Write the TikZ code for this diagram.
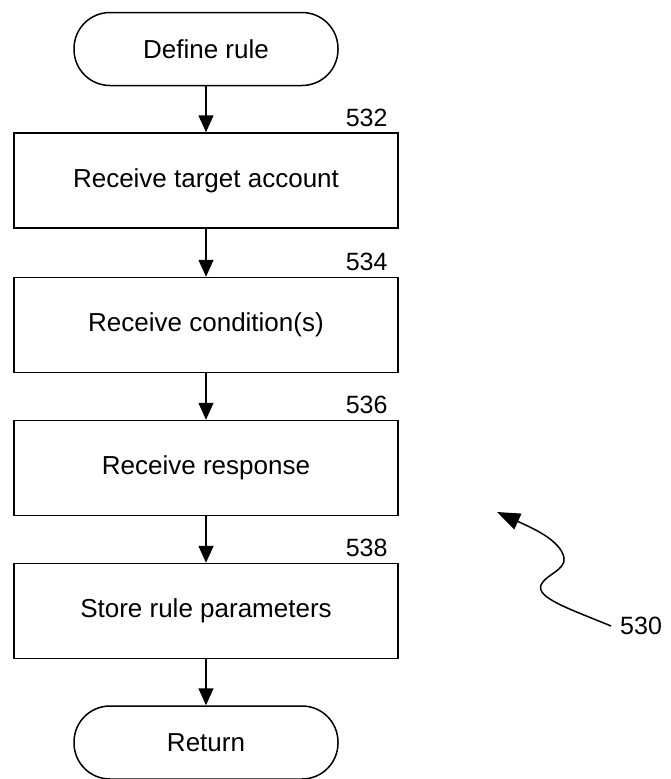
\documentclass[tikz,border=0pt]{standalone}
\usepackage{fontspec}
\setmainfont{Liberation Sans}
\usetikzlibrary{arrows.meta}
\begin{document}
\begin{tikzpicture}[x=1pt,y=-1pt,
  every node/.style={font=\fontsize{26}{30}\selectfont},
  terminal/.style={draw, line width=1.5pt, rounded corners=36pt, minimum width=264pt, minimum height=73pt, inner sep=0pt},
  stepbox/.style={draw, line width=1.5pt, minimum width=384pt, minimum height=95pt, inner sep=0pt},
  num/.style={inner sep=0pt, font=\fontsize{25}{28}\selectfont},
  flow/.style={line width=1.5pt, -{Triangle[length=17pt,width=15pt]}},
  lead/.style={line width=1.5pt, -{Triangle[length=23pt,width=17pt]}}]
\useasboundingbox (0,0) rectangle (670,779);
\node[terminal] (start) at (206,49) {Define rule};
\node[stepbox] (b1) at (206,180.5) {Receive target account};
\node[stepbox] (b2) at (206,325) {Receive condition(s)};
\node[stepbox] (b3) at (206,468) {Receive response};
\node[stepbox] (b4) at (206,611) {Store rule parameters};
\node[terminal] (ret) at (206,742.5) {Return};
\node[num, anchor=base east] (n1) at ([xshift=-11pt,yshift=6pt]b1.north east) {532};
\node[num, anchor=base east] (n2) at ([xshift=-11pt,yshift=6pt]b2.north east) {534};
\node[num, anchor=base east] (n3) at ([xshift=-11pt,yshift=6pt]b3.north east) {536};
\node[num, anchor=base east] (n4) at ([xshift=-11pt,yshift=6pt]b4.north east) {538};
\draw[flow] (start) -- (b1);
\draw[flow] (b1) -- (b2);
\draw[flow] (b2) -- (b3);
\draw[flow] (b3) -- (b4);
\draw[flow] (b4) -- (ret);
\node[num, anchor=west] (n530) at (620,626) {530};
\coordinate (tail) at (611,626);
\coordinate (tip) at (497,512);
\draw[lead] (tail) .. controls (570,609) and (536,598) .. (541,585)
  .. controls (545,575) and (566,570) .. (564,558)
  .. controls (561,540) and (530,527) .. (tip);
\end{tikzpicture}
\end{document}
